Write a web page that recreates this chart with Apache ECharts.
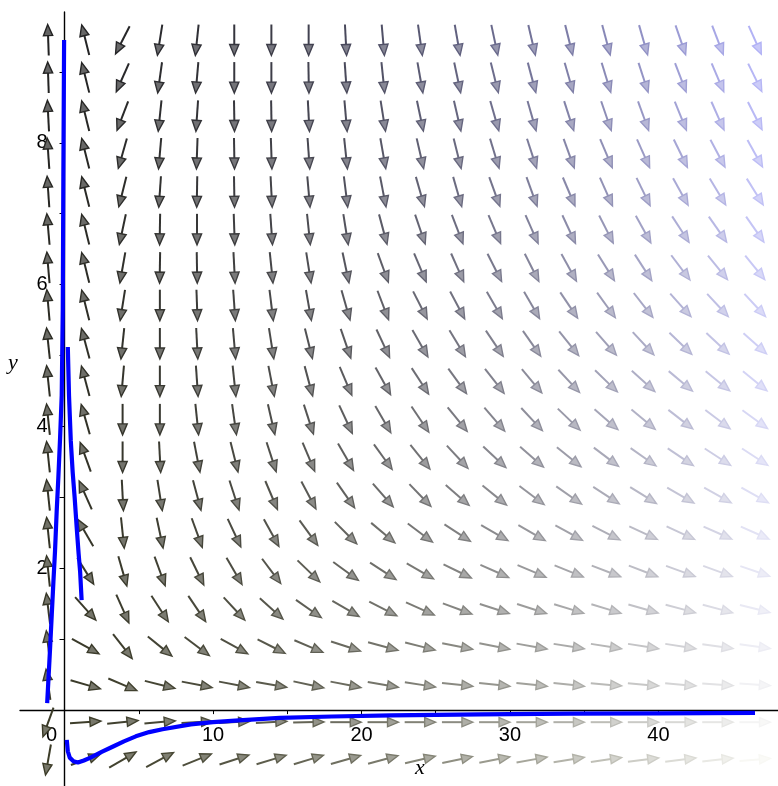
<!DOCTYPE html>
<html><head><meta charset="utf-8">
<script src="https://cdn.jsdelivr.net/npm/echarts@6/dist/echarts.min.js"></script>
<style>html,body{margin:0;padding:0;background:#fff}#c{width:778px;height:786px}</style>
</head><body><div id="c"></div>
<script>
// arrow grid positions (data units)
const gridX = [-1.1, 1.41, 3.91, 6.42, 8.92, 11.43, 13.93, 16.44, 18.94, 21.45, 23.95, 26.46, 28.96, 31.47, 33.97, 36.48, 38.98, 41.49, 43.99, 46.5];
const gridY = [9.45, 8.92, 8.38, 7.85, 7.31, 6.78, 6.24, 5.71, 5.17, 4.64, 4.10, 3.57, 3.03, 2.50, 1.96, 1.43, 0.90, 0.36, -0.17, -0.70];
// arrow directions (screen degrees, counter-clockwise from +x), one array per row, top row first
const dir0  = [92, 104, -117, -99, -96, -90, -90, -90, -87, -85, -82, -80, -78, -77, -76, -75, -74, -71, -69, -66];
const dir1  = [92, 104, -114, -98, -95, -90, -90, -89, -86, -84, -80, -78, -76, -75, -74, -73, -72, -69, -67, -64];
const dir2  = [93, 104, -111, -96, -94, -89, -89, -87, -85, -81, -78, -77, -74, -74, -72, -71, -70, -68, -66, -63];
const dir3  = [94, 104, -106, -95, -92, -89, -88, -86, -84, -80, -77, -76, -73, -72, -70, -67, -66, -64, -62, -61];
const dir4  = [94, 104, -104, -94, -91, -89, -87, -85, -83, -79, -74, -74, -70, -70, -67, -66, -64, -61, -59, -58];
const dir5  = [95, 104, -102, -91, -90, -88, -86, -84, -81, -75, -71, -69, -67, -66, -65, -63, -61, -57, -55, -55];
const dir6  = [95, 104, -100, -91, -89, -87, -84, -81, -78, -70, -67, -66, -63, -63, -61, -58, -57, -53, -51, -51];
const dir7  = [95, 104, -99, -90, -88, -86, -83, -80, -74, -69, -63, -62, -60, -60, -56, -54, -52, -48, -47, -47];
const dir8  = [96, 105, -96, -90, -87, -85, -81, -76, -71, -65, -60, -59, -56, -55, -51, -49, -47, -44, -43, -42];
const dir9  = [96, 105, -95, -90, -86, -84, -79, -75, -67, -61, -57, -54, -52, -50, -47, -44, -42, -40, -39, -39];
const dir10 = [96, 106, -90, -90, -84, -82, -77, -72, -65, -60, -56, -51, -49, -47, -44, -41, -40, -38, -37, -36];
const dir11 = [96, 110, -90, -87, -79, -76, -72, -67, -60, -54, -51, -47, -43, -41, -39, -37, -35, -34, -33, -33];
const dir12 = [96, 114, -87, -81, -75, -72, -67, -62, -55, -49, -46, -41, -39, -37, -35, -33, -32, -30, -29, -29];
const dir13 = [96, 120, -84, -78, -70, -65, -61, -54, -45, -40, -37, -33, -30, -30, -29, -27, -25, -25, -24, -24];
const dir14 = [96, -58, -74, -70, -64, -60, -53, -44, -36, -33, -30, -26, -24, -23, -22, -21, -21, -20, -20, -19];
const dir15 = [97, -48, -66, -57, -56, -47, -42, -35, -30, -27, -24, -20, -18, -18, -17, -17, -16, -15, -15, -14];
const dir16 = [97, -29, -52, -39, -37, -29, -27, -23, -18, -15, -14, -11, -11, -10, -9, -9, -9, -9, -8, -8];
const dir17 = [98, -16, -23, -14, -11, -11, -10, -12, -11, -10, -9, -6, -6, -6, -6, -5, -5, -5, -4, -4];
const dir18 = [-110, 4, 6, 5, 3, 3, 3, 1, 0, 0, 0, 0, 0, 0, 0, 0, 0, 0, 0, 0];
const dir19 = [-100, 20, 30, 28, 22, 18, 17, 17, 16, 15, 13, 12, 11, 10, 9, 8, 7, 7, 6, 5];
const directions = [dir0, dir1, dir2, dir3, dir4, dir5, dir6, dir7, dir8, dir9, dir10, dir11, dir12, dir13, dir14, dir15, dir16, dir17, dir18, dir19];

// solution curves (x, y)
const curveA = [[-1.17,0.10],[-1.08,0.45],[-0.98,0.85],[-0.86,1.35],[-0.75,1.81],[-0.64,2.25],[-0.53,2.80],[-0.42,3.27],[-0.30,3.84],[-0.19,4.44],[-0.12,5.64],[-0.08,7.52],[-0.03,9.45]];
const curveB = [[0.22,5.12],[0.30,4.44],[0.42,3.80],[0.55,3.35],[0.68,3.00],[0.82,2.57],[0.95,2.20],[1.05,1.95],[1.15,1.55]];
const curveC = [[0.15,-0.42],[0.22,-0.58],[0.35,-0.67],[0.6,-0.72],[0.9,-0.74],[1.3,-0.71],[1.75,-0.67],[2.5,-0.59],[3.2,-0.52],[4.0,-0.44],[4.8,-0.37],[5.7,-0.31],[6.6,-0.27],[8.5,-0.20],[10,-0.17],[12,-0.14],[14.5,-0.11],[18,-0.09],[22,-0.075],[28,-0.06],[34,-0.05],[40,-0.045],[46.5,-0.04]];

// axis ranges and tick values
const xMin = -3, xMax = 48.05, yMin = -1.07, yMax = 9.845;
const xTicks = [5, 10, 15, 20, 25, 30, 35, 40, 45];
const xLabels = [0, 10, 20, 30, 40];
const yTicks = [1, 2, 3, 4, 5, 6, 7, 8, 9];
const yLabels = [2, 4, 6, 8];

const G = { left: 20, right: 0, top: 12, bottom: 0, w: 758, h: 774 };
// shift axes (line, ticks and labels together) onto the zero lines
const xAxisOffset = -((0 - yMin) / (yMax - yMin)) * G.h;
const yAxisOffset = -((0 - xMin) / (xMax - xMin)) * G.w;

function lerp(a, b, t) { return a.map((v, i) => v + (b[i] - v) * t); }
function rgb(c) { return 'rgb(' + c.map(v => Math.round(v)).join(',') + ')'; }
function arrowColor(r, c) {
  const v = r / 19, u = c / 19;
  const dark = lerp([34, 34, 34], [60, 60, 40], v);
  const light = lerp([178, 178, 245], [248, 248, 244], v);
  const col = lerp(dark, light, Math.pow(u, 1.5));
  return { stroke: rgb(col), fill: rgb(lerp(col, [255, 255, 255], 0.3)) };
}

const arrowData = [];
directions.forEach((row, r) => row.forEach((a, c) => arrowData.push([gridX[c], gridY[r], a, r, c])));

function renderArrow(params, api) {
  const p = api.coord([api.value(0), api.value(1)]);
  const a = api.value(2) * Math.PI / 180;
  const r = api.value(3), c = api.value(4);
  const dx = Math.cos(a), dy = -Math.sin(a);
  const L = 31, HL = 11, HW = 4.6;
  const tail = [p[0] - dx * L / 2, p[1] - dy * L / 2];
  const tip = [p[0] + dx * L / 2, p[1] + dy * L / 2];
  const base = [tip[0] - dx * HL, tip[1] - dy * HL];
  const nx = -dy, ny = dx;
  const col = arrowColor(r, c);
  return { type: 'group', children: [
    { type: 'line', shape: { x1: tail[0], y1: tail[1], x2: base[0] + dx * 2, y2: base[1] + dy * 2 },
      style: { stroke: col.stroke, lineWidth: 2 } },
    { type: 'polygon', shape: { points: [tip, [base[0] + nx * HW, base[1] + ny * HW], [base[0] - nx * HW, base[1] - ny * HW]] },
      style: { fill: col.fill, stroke: col.stroke, lineWidth: 1.4 } }
  ]};
}

const chart = echarts.init(document.getElementById('c'), null, { renderer: 'canvas' });
const lblFont = { fontFamily: 'Liberation Sans', fontSize: 20, color: '#000' };
const blueLine = (d) => ({ type: 'line', data: d, showSymbol: false, symbol: 'none', silent: true, z: 3,
  lineStyle: { color: '#0000ff', width: 4.2 }, animation: false });

chart.setOption({
  animation: false,
  backgroundColor: '#fff',
  grid: { left: G.left, right: G.right, top: G.top, bottom: G.bottom, containLabel: false, outerBoundsMode: 'none' },
  xAxis: {
    type: 'value', min: xMin, max: xMax, position: 'bottom', offset: xAxisOffset,
    axisLine: { onZero: false, lineStyle: { color: '#000', width: 1.4 } },
    axisTick: { show: true, customValues: xTicks, length: 4, lineStyle: { color: '#000', width: 1 } },
    axisLabel: Object.assign({ customValues: xLabels, margin: 15,
      formatter: v => v === 0 ? '{z|0}' : String(v),
      rich: { z: Object.assign({ padding: [0, 26, 0, 0] }, lblFont) } }, lblFont),
    splitLine: { show: false }
  },
  yAxis: {
    type: 'value', min: yMin, max: yMax, position: 'left', offset: yAxisOffset,
    axisLine: { onZero: false, lineStyle: { color: '#000', width: 1.4 } },
    axisTick: { show: true, customValues: yTicks, length: 5, lineStyle: { color: '#000', width: 1 } },
    axisLabel: Object.assign({ customValues: yLabels, margin: 17 }, lblFont),
    splitLine: { show: false }
  },
  graphic: [
    { type: 'text', left: 8, top: 352, style: { text: 'y', font: 'italic 22px "Liberation Serif"', fill: '#000' } },
    { type: 'text', left: 415, top: 757, style: { text: 'x', font: 'italic 22px "Liberation Serif"', fill: '#000' } }
  ],
  series: [
    { type: 'custom', renderItem: renderArrow, data: arrowData, silent: true, z: 2, clip: false },
    blueLine(curveA), blueLine(curveB), blueLine(curveC)
  ]
});
</script>
</body></html>
